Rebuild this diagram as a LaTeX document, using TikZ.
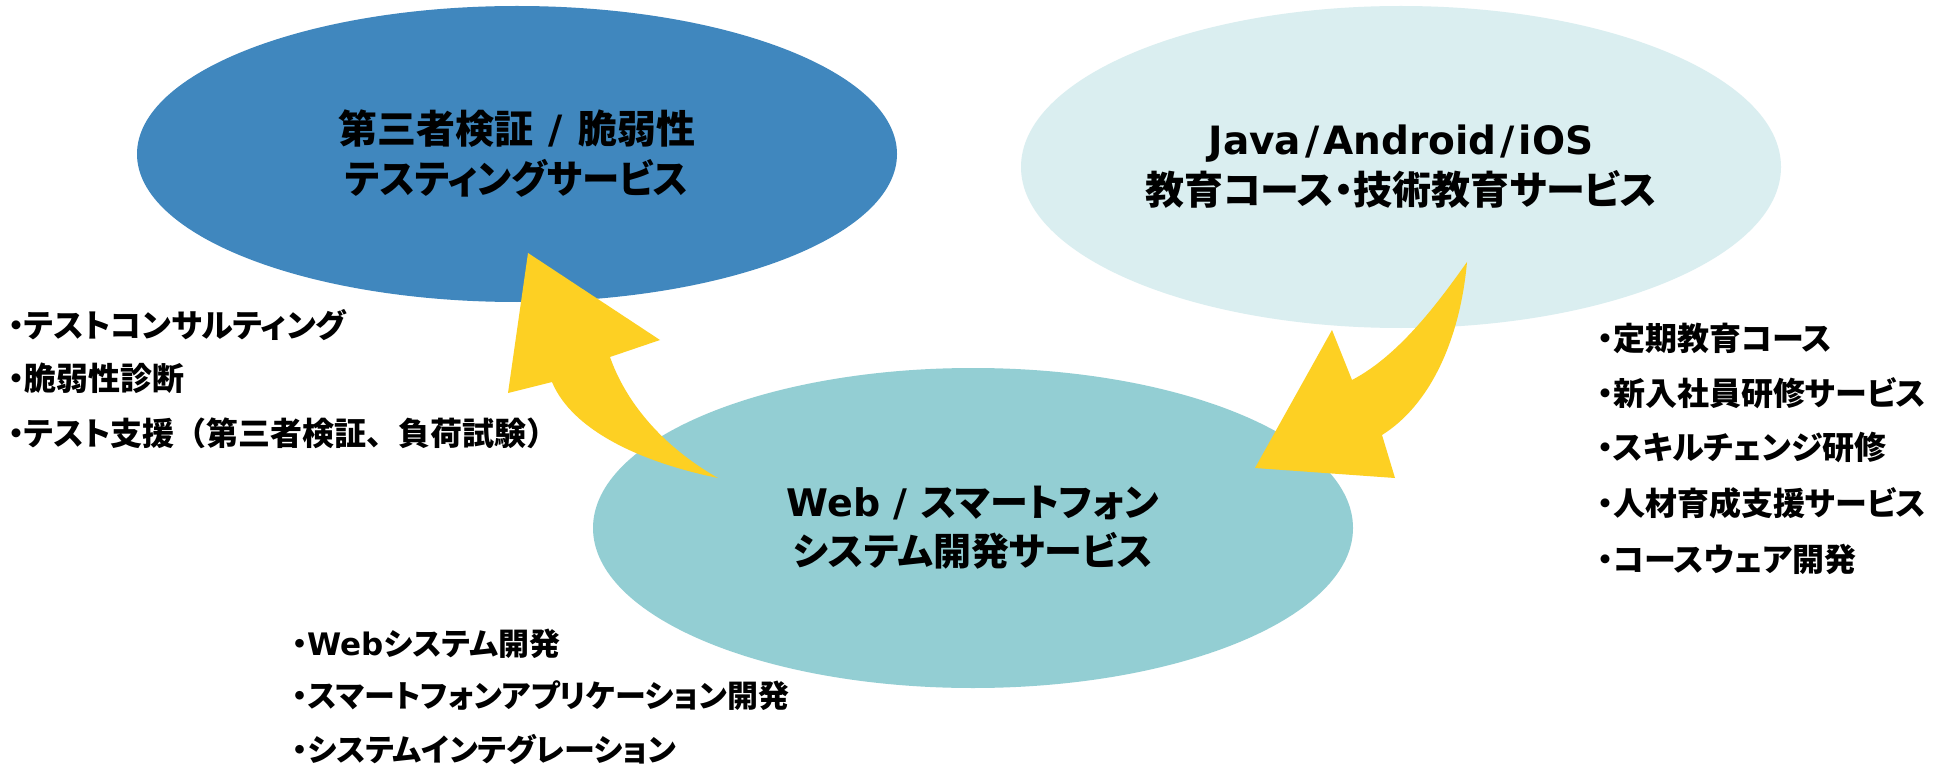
\documentclass[tikz,border=0pt]{standalone}
\usepackage{fontspec}
\setmainfont{DejaVu Sans}
\newfontfamily\jp[RawFeature=+palt]{Noto Sans CJK JP}
\newfontfamily\jpf{Noto Sans CJK JP}
\newfontfamily\latf{DejaVu Sans}
\usetikzlibrary{shapes.geometric}
\definecolor{eblue}{RGB}{64,135,190}
\definecolor{elight}{RGB}{218,238,240}
\definecolor{eteal}{RGB}{147,206,211}
\definecolor{arrowy}{RGB}{253,208,35}
\newcommand\lt[1]{{\latf\bfseries #1}}
\newcommand\fw[1]{{\jpf\bfseries #1}}
\newcommand\sls{\hspace{15pt}\lt{/}\hspace{15pt}}
\begin{document}
\begin{tikzpicture}[x=1pt,y=-1pt,
  ell/.style={ellipse, inner sep=0pt, draw=none, minimum width=760pt, align=center,
    font=\jp\bfseries\fontsize{39}{50}\selectfont},
  item/.style={anchor=west, inner sep=0pt, font=\jp\bfseries\fontsize{32}{38}\selectfont},
  bitem/.style={item, font=\jp\bfseries\fontsize{31}{38}\selectfont},
  bigarrow/.style={fill=arrowy, draw=none}]
\useasboundingbox (0,0) rectangle (1956,767);
\fill[white] (0,0) rectangle (1956,767);
% ellipses
\node[ell, fill=eblue, minimum height=296pt] (test) at (517,154)
  {第三者検証\sls 脆弱性\\\scalebox{0.96}[1]{テスティングサービス}};
\node[ell, fill=elight, minimum height=322pt] (edu) at (1401,167)
  {\lt{Java\hspace{4pt}/\hspace{4pt}Android\hspace{4pt}/\hspace{4pt}iOS}\\教育コース・技術教育サービス};
\node[ell, fill=eteal, minimum height=320pt,
  font=\jp\bfseries\fontsize{38}{49}\selectfont] (dev) at (973,528)
  {\lt{Web / }スマートフォン\\システム開発サービス};
% arrows
\fill[bigarrow] (528,253) -- (660,340) -- (610,357)
  .. controls (625,400) and (660,445) .. (718,478)
  .. controls (640,462) and (572,430) .. (552,382) -- (508,393) -- cycle;
\fill[bigarrow] (1467,262) .. controls (1440,300) and (1400,355) .. (1352,380)
  -- (1332,330) -- (1255,468) -- (1395,478) -- (1382,435)
  .. controls (1430,405) and (1460,340) .. (1467,262) -- cycle;
% left list
\node[item] (a1) at (8,325) {・テストコンサルティング};
\node[item] (a2) at (8,378) {・脆弱性診断};
\node[item] (a3) at (8,433) {・テスト支援\fw{（}第三者検証\fw{、}負荷試験\fw{）}};
% right list
\node[item] (b1) at (1597,338) {・定期教育コース};
\node[item] (b2) at (1597,393) {・新入社員研修サービス};
\node[item] (b3) at (1597,447) {・スキルチェンジ研修};
\node[item] (b4) at (1597,503) {・人材育成支援サービス};
\node[item] (b5) at (1597,559) {・コースウェア開発};
% bottom list
\node[bitem] (c1) at (292,644) {・\lt{Web}システム開発};
\node[bitem] (c2) at (292,696) {・スマートフォンアプリケーション開発};
\node[bitem] (c3) at (292,749) {・システムインテグレーション};
\end{tikzpicture}
\end{document}
